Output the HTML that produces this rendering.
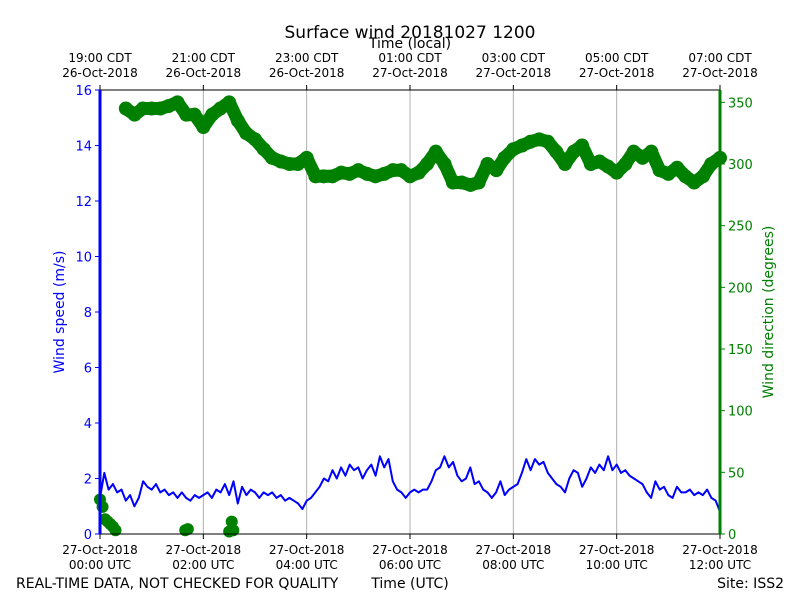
<!DOCTYPE html>
<html><head><meta charset="utf-8"><style>
html,body{margin:0;padding:0;background:#fff;}
svg{display:block;font-family:"DejaVu Sans","Liberation Sans",sans-serif;}
</style></head><body>
<svg id="chart" width="800" height="600" viewBox="0 0 800 600"></svg>
<script>
// Data (5-minute steps starting 00:00 UTC)
const speedValues=[1.3,2.2,1.6,1.8,1.5,1.6,1.2,1.4,1.0,1.3,1.9,1.7,
1.6,1.8,1.5,1.6,1.4,1.5,1.3,1.5,1.3,1.2,1.4,1.3,
1.4,1.5,1.3,1.6,1.5,1.8,1.4,1.9,1.1,1.7,1.4,1.6,
1.5,1.3,1.5,1.4,1.5,1.3,1.4,1.2,1.3,1.2,1.1,0.9,
1.2,1.3,1.5,1.7,2.0,1.9,2.3,2.0,2.4,2.1,2.5,2.3,
2.4,2.0,2.3,2.5,2.1,2.8,2.4,2.7,1.9,1.6,1.5,1.3,
1.5,1.6,1.5,1.6,1.6,1.9,2.3,2.4,2.8,2.4,2.6,2.1,
1.9,2.0,2.4,1.8,1.9,1.6,1.5,1.3,1.5,1.9,1.4,1.6,
1.7,1.8,2.2,2.7,2.3,2.7,2.5,2.6,2.2,2.0,1.8,1.7,
1.5,2.0,2.3,2.2,1.7,2.0,2.4,2.2,2.5,2.3,2.8,2.3,
2.5,2.2,2.3,2.1,2.0,1.9,1.8,1.5,1.3,1.9,1.6,1.7,
1.4,1.3,1.7,1.5,1.5,1.6,1.4,1.5,1.4,1.6,1.3,1.2,0.8];
const dirHours=[0.5,0.67,0.83,1,1.17,1.33,1.5,1.67,1.83,2,2.17,2.33,2.5,2.67,2.83,3,3.17,3.33,3.5,3.67,3.83,4,4.17,4.33,4.5,4.67,4.83,5,5.17,5.33,5.5,5.67,5.83,6,6.17,6.33,6.5,6.67,6.83,7,7.17,7.33,7.5,7.67,7.83,8,8.17,8.33,8.5,8.67,8.83,9,9.17,9.33,9.5,9.67,9.83,10,10.17,10.33,10.5,10.67,10.83,11,11.17,11.33,11.5,11.67,11.83,12];
const dirValues=[345,340,345,345,345,347,350,340,340,330,340,345,350,335,325,320,312,305,302,300,300,305,290,290,290,293,292,295,292,290,292,295,295,290,293,300,310,300,285,285,283,285,300,295,305,312,315,318,320,318,310,300,310,315,300,302,298,293,300,310,305,310,295,292,297,290,285,290,300,305];
const lowDirHours=[0,0.05,0.1,0.15,0.2,0.25,0.3,1.65,1.7,2.5,2.55,2.58];
const lowDirValues=[28,22,12,10,8,6,3,3,4,2,10,3];
const xTickUTC=["27-Oct-2018|00:00 UTC","27-Oct-2018|02:00 UTC","27-Oct-2018|04:00 UTC","27-Oct-2018|06:00 UTC","27-Oct-2018|08:00 UTC","27-Oct-2018|10:00 UTC","27-Oct-2018|12:00 UTC"];
const xTickLocal=["19:00 CDT|26-Oct-2018","21:00 CDT|26-Oct-2018","23:00 CDT|26-Oct-2018","01:00 CDT|27-Oct-2018","03:00 CDT|27-Oct-2018","05:00 CDT|27-Oct-2018","07:00 CDT|27-Oct-2018"];
const leftTicks=[0,2,4,6,8,10,12,14,16];
const rightTicks=[0,50,100,150,200,250,300,350];

const L=100,R=720,T=90,B=534;
const xs=h=>L+(R-L)*h/12;
const ys=v=>B-(B-T)*v/16;
const yd=v=>B-(B-T)*v/360;
const svg=document.getElementById('chart');
const NS='http://www.w3.org/2000/svg';
function mk(tag,attrs,parent){const e=document.createElementNS(NS,tag);for(const k in attrs)e.setAttribute(k,attrs[k]);(parent||svg).appendChild(e);return e;}
function txt(x,y,s,attrs){const e=mk('text',Object.assign({x:x,y:y},attrs||{}));e.textContent=s;return e;}

for(let i=0;i<7;i++){const g=mk('line',{x1:xs(i*2),x2:xs(i*2),y1:T,y2:B,stroke:'#b0b0b0','stroke-width':1});

}

const dg=mk('g',{fill:'green'});


let dp='';dirHours.forEach((h,i)=>{dp+=(i?'L':'M')+xs(h).toFixed(1)+','+yd(dirValues[i]).toFixed(1);});
mk('path',{d:dp,fill:'none',stroke:'green','stroke-width':13,'stroke-linejoin':'round','stroke-linecap':'round'},dg);
dirHours.forEach((h,i)=>{const c=mk('circle',{cx:xs(h),cy:yd(dirValues[i]),r:7},dg);

});
lowDirHours.forEach((h,i)=>{const c=mk('circle',{cx:xs(h),cy:yd(lowDirValues[i]),r:6},dg);

});

let sp='';speedValues.forEach((v,i)=>{sp+=(i?'L':'M')+xs(i/12).toFixed(1)+','+ys(v).toFixed(1);});
const sl=mk('path',{d:sp,fill:'none',stroke:'blue','stroke-width':2,'stroke-linejoin':'round'});



mk('line',{x1:L,x2:R,y1:T,y2:T,stroke:'#000','stroke-width':1});
mk('line',{x1:L,x2:R,y1:B,y2:B,stroke:'#000','stroke-width':1});
const la=mk('line',{x1:L,x2:L,y1:T,y2:B,stroke:'blue','stroke-width':3});


const ra=mk('line',{x1:R,x2:R,y1:T,y2:B,stroke:'green','stroke-width':3});



leftTicks.forEach(v=>{mk('line',{x1:L-5,x2:L,y1:ys(v),y2:ys(v),stroke:'blue','stroke-width':1});
const t=txt(L-8,ys(v)+5,String(v),{'text-anchor':'end','font-size':13,fill:'blue'});

});
rightTicks.forEach(v=>{mk('line',{x1:R,x2:R+5,y1:yd(v),y2:yd(v),stroke:'green','stroke-width':1});
const t=txt(R+8,yd(v)+5,String(v),{'font-size':13,fill:'green'});

});
xTickUTC.forEach((s,i)=>{const x=xs(i*2);mk('line',{x1:x,x2:x,y1:B,y2:B+5,stroke:'#000'});
const p=s.split('|');const t=txt(x,B+20,p[0],{'text-anchor':'middle','font-size':12});


txt(x,B+35,p[1],{'text-anchor':'middle','font-size':12});});
xTickLocal.forEach((s,i)=>{const x=xs(i*2);mk('line',{x1:x,x2:x,y1:T-5,y2:T,stroke:'#000'});
const p=s.split('|');const t=txt(x,T-28,p[0],{'text-anchor':'middle','font-size':12});


txt(x,T-13,p[1],{'text-anchor':'middle','font-size':12});});

let t;
t=txt(410,38,'Surface wind 20181027 1200',{'text-anchor':'middle','font-size':17});

t=txt(410,48,'Time (local)',{'text-anchor':'middle','font-size':14});

t=txt(64,312,'Wind speed (m/s)',{'text-anchor':'middle','font-size':14,fill:'blue',transform:'rotate(-90 64 312)'});

t=txt(773,312,'Wind direction (degrees)',{'text-anchor':'middle','font-size':14,fill:'green',transform:'rotate(-90 773 312)'});

t=txt(410,588,'Time (UTC)',{'text-anchor':'middle','font-size':14});

t=txt(16,588,'REAL-TIME DATA, NOT CHECKED FOR QUALITY',{'font-size':14});

t=txt(784,588,'Site: ISS2',{'text-anchor':'end','font-size':14});

</script>
</body></html>
